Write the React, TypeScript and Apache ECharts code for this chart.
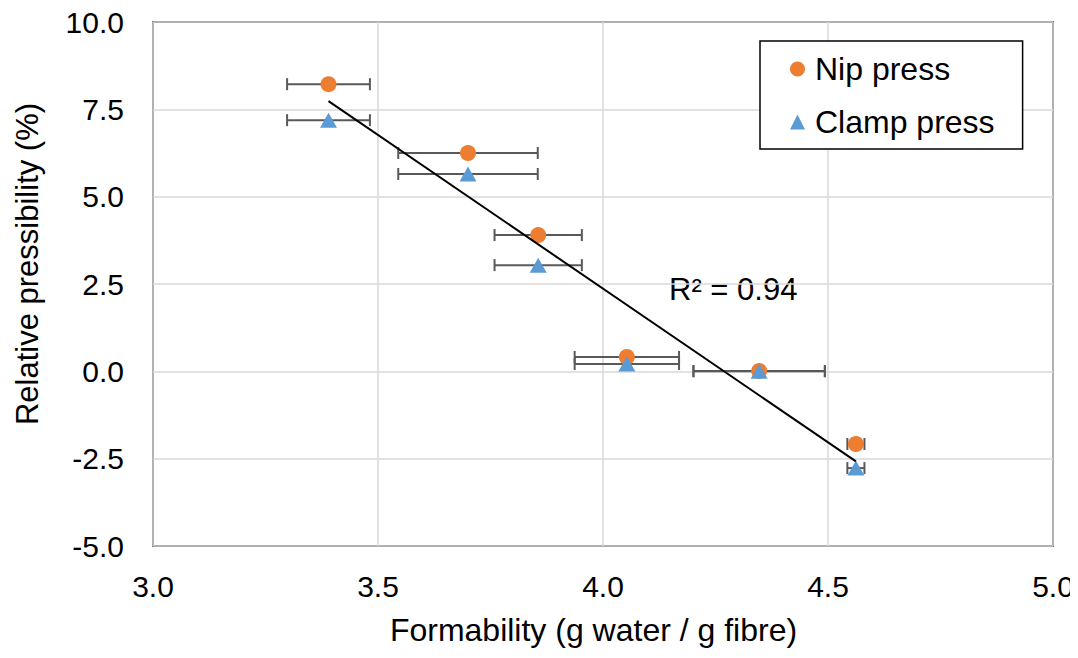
import React, { useEffect, useRef } from "react";
import * as echarts from "echarts";

const formability = [3.39, 3.7, 3.856, 4.053, 4.347, 4.562];
const nipPress = [8.22, 6.25, 3.9, 0.41, 0.01, -2.08];
const clampPress = [7.19, 5.65, 3.04, 0.21, 0.0, -2.77];
const formabilityErr = [0.092, 0.155, 0.097, 0.116, 0.146, 0.019];
const xTicks = { min: 3, max: 5, interval: 0.5 };
const yTicks = { min: -5, max: 10, interval: 2.5 };
const r2Label = "R² = 0.94";

const FONT = "'Liberation Sans', Arial, sans-serif";

function regression(xs: number[], ys: number[]) {
  const n = xs.length;
  const mx = xs.reduce((a, b) => a + b, 0) / n;
  const my = ys.reduce((a, b) => a + b, 0) / n;
  let sxy = 0, sxx = 0;
  for (let i = 0; i < n; i++) {
    sxy += (xs[i] - mx) * (ys[i] - my);
    sxx += (xs[i] - mx) ** 2;
  }
  const slope = sxy / sxx;
  return { slope, intercept: my - slope * mx };
}

export default function App() {
  const ref = useRef<HTMLDivElement>(null);
  useEffect(() => {
    if (!ref.current) return;
    const chart = echarts.init(ref.current, null, { renderer: "svg" });
    const allX = [...formability, ...formability];
    const allY = [...nipPress, ...clampPress];
    const { slope, intercept } = regression(allX, allY);
    const x0 = Math.min(...formability);
    const x1 = Math.max(...formability);
    const trend = [
      [x0, intercept + slope * x0],
      [x1, intercept + slope * x1],
    ];
    const errData = (ys: number[]) => formability.map((x, i) => [x, ys[i], formabilityErr[i]]);
    const renderErr = (params: any, api: any) => {
      const x = api.value(0);
      const y = api.value(1);
      const e = api.value(2);
      const p1 = api.coord([x - e, y]);
      const p2 = api.coord([x + e, y]);
      const h = 6;
      const style = { stroke: "#595959", lineWidth: 2 };
      return {
        type: "group",
        children: [
          { type: "line", shape: { x1: p1[0], y1: p1[1], x2: p2[0], y2: p2[1] }, style },
          { type: "line", shape: { x1: p1[0], y1: p1[1] - h, x2: p1[0], y2: p1[1] + h }, style },
          { type: "line", shape: { x1: p2[0], y1: p2[1] - h, x2: p2[0], y2: p2[1] + h }, style },
        ],
      };
    };
    chart.setOption({
      animation: false,
      textStyle: { fontFamily: FONT },
      grid: {
        left: 153,
        right: 25,
        top: 22,
        bottom: 112,
        show: true,
        borderColor: "#000",
        borderWidth: 1.5,
      },
      xAxis: {
        type: "value",
        min: xTicks.min,
        max: xTicks.max,
        interval: xTicks.interval,
        name: "Formability (g water / g fibre)",
        nameLocation: "middle",
        nameGap: 68,
        nameTextStyle: { fontSize: 32, color: "#000", fontFamily: FONT, padding: [0, 19, 0, 0] },
        axisLine: { show: false },
        axisTick: { show: false },
        axisLabel: {
          fontSize: 30,
          color: "#000",
          margin: 25,
          fontFamily: FONT,
          formatter: (v: number) => v.toFixed(1),
        },
        splitLine: { lineStyle: { color: "#d9d9d9", width: 1.5 } },
      },
      yAxis: {
        type: "value",
        min: yTicks.min,
        max: yTicks.max,
        interval: yTicks.interval,
        name: "Relative pressibility (%)",
        nameLocation: "middle",
        nameGap: 110,
        nameTextStyle: { fontSize: 31, color: "#000", fontFamily: FONT, padding: [0, 0, 0, 40] },
        axisLine: { show: false },
        axisTick: { show: false },
        axisLabel: {
          fontSize: 30,
          color: "#000",
          margin: 29,
          fontFamily: FONT,
          formatter: (v: number) => v.toFixed(1),
        },
        splitLine: { lineStyle: { color: "#d9d9d9", width: 1.5 } },
      },
      legend: {
        left: 760,
        top: 41,
        orient: "vertical",
        backgroundColor: "#fff",
        borderColor: "#000",
        borderWidth: 1.5,
        borderRadius: 0,
        padding: [12, 28, 11, 30],
        itemGap: 21,
        itemWidth: 15,
        itemHeight: 15,
        textStyle: { fontSize: 32, color: "#000", lineHeight: 32, fontFamily: FONT, padding: [0, 0, 0, 5] },
        data: [
          { name: "Nip press", icon: "circle" },
          { name: "Clamp press", icon: "triangle" },
        ],
      },
      graphic: [
        {
          type: "text",
          left: 669,
          top: 274,
          style: { text: r2Label, fontSize: 31, fill: "#000", fontFamily: FONT },
        },
      ],
      series: [
        {
          type: "custom",
          name: "nipErr",
          renderItem: renderErr,
          data: errData(nipPress),
          z: 1,
          silent: true,
        },
        {
          type: "custom",
          name: "clampErr",
          renderItem: renderErr,
          data: errData(clampPress),
          z: 1,
          silent: true,
        },
        {
          type: "scatter",
          name: "Nip press",
          symbol: "circle",
          symbolSize: 16,
          itemStyle: { color: "#ED7D31", opacity: 1 },
          data: formability.map((x, i) => [x, nipPress[i]]),
          z: 3,
        },
        {
          type: "scatter",
          name: "Clamp press",
          symbol: "triangle",
          symbolSize: [17, 15],
          itemStyle: { color: "#5B9BD5", opacity: 1 },
          data: formability.map((x, i) => [x, clampPress[i]]),
          z: 4,
        },
        {
          type: "line",
          name: "trend",
          data: trend,
          showSymbol: false,
          symbol: "none",
          lineStyle: { color: "#000", width: 2 },
          z: 5,
          silent: true,
        },
      ],
    });
    return () => chart.dispose();
  }, []);
  return <div ref={ref} style={{ width: 1078, height: 658, margin: -8 }} />;
}
